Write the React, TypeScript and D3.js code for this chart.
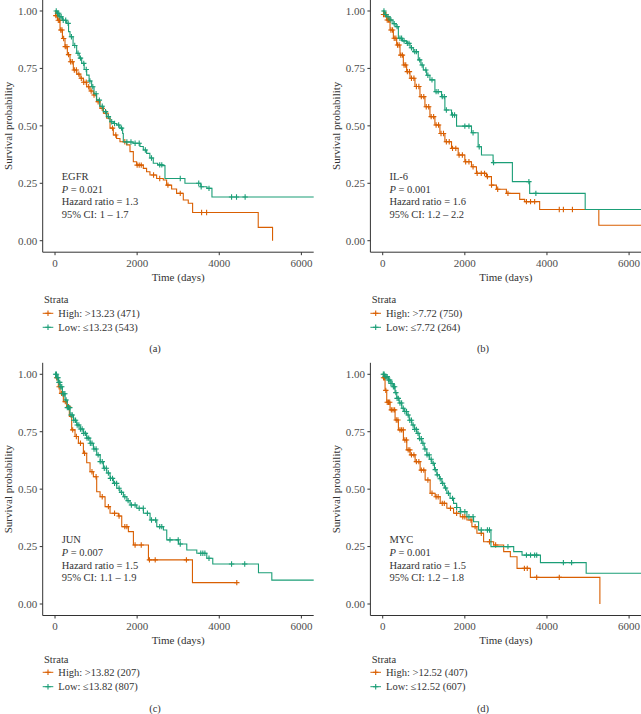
import React from "react";
import * as d3 from "d3";

type Pt = [number, number];

const TIME_TICKS = [0, 2000, 4000, 6000];
const SURV_TICKS = [0, 0.25, 0.5, 0.75, 1];
const PANEL_LABELS = ["(a)", "(b)", "(c)", "(d)"];
const GENES = ["EGFR", "IL-6", "JUN", "MYC"];
const P_VALUES = ["0.021", "0.001", "0.007", "0.001"];
const HAZARD = ["1.3", "1.6", "1.5", "1.5"];
const CI = ["1 – 1.7", "1.2 – 2.2", "1.1 – 1.9", "1.2 – 1.8"];
const HIGH_LABELS = ["High: >13.23 (471)", "High: >7.72 (750)", "High: >13.82 (207)", "High: >12.52 (407)"];
const LOW_LABELS = ["Low: ≤13.23 (543)", "Low: ≤7.72 (264)", "Low: ≤13.82 (807)", "Low: ≤12.52 (607)"];

// EGFR
const egfrHigh: Pt[] = [[0,1],[15,0.98],[60,0.96],[122,0.917],[180,0.88],[243,0.845],[300,0.81],[365,0.779],[446,0.743],[530,0.725],[609,0.707],[690,0.69],[771,0.67],[850,0.652],[933,0.634],[1010,0.605],[1095,0.576],[1180,0.555],[1258,0.533],[1340,0.49],[1420,0.46],[1500,0.445],[1582,0.431],[1744,0.417],[1826,0.388],[1907,0.344],[1988,0.329],[2150,0.315],[2230,0.3],[2312,0.286],[2475,0.271],[2637,0.264],[2718,0.242],[2840,0.225],[2961,0.206],[3124,0.177],[3245,0.163],[3351,0.123],[4949,0.058],[5298,0]];
const egfrHighCens = [20,50,80,110,140,170,210,250,290,330,380,420,470,520,580,640,700,760,820,880,950,1050,1150,1250,1400,1480,1700,2000,2050,2100,2400,2550,2750,3050,3570,3692];
const egfrLow: Pt[] = [[0,1],[40,0.99],[100,0.975],[180,0.96],[284,0.946],[330,0.91],[365,0.888],[440,0.85],[527,0.816],[590,0.795],[649,0.772],[710,0.745],[771,0.721],[830,0.695],[892,0.67],[950,0.64],[1014,0.612],[1090,0.585],[1176,0.562],[1260,0.54],[1339,0.518],[1420,0.51],[1501,0.504],[1580,0.49],[1647,0.467],[1663,0.43],[1900,0.424],[2069,0.41],[2150,0.395],[2231,0.38],[2310,0.36],[2393,0.337],[2500,0.33],[2620,0.327],[2678,0.271],[3164,0.25],[3550,0.235],[3700,0.228],[3822,0.19]];
const egfrLowCens = [30,60,90,120,150,200,260,320,400,480,560,620,700,760,850,920,1000,1080,1150,1230,1300,1380,1450,1550,1620,1750,1850,1950,2050,2200,2350,2550,2600,3050,3500,3560,3750,4300,4420,4630];

// IL-6
const il6High: Pt[] = [[0,1],[20,0.985],[97,0.961],[178,0.917],[259,0.881],[340,0.852],[421,0.808],[502,0.765],[583,0.736],[664,0.707],[785,0.671],[907,0.627],[1028,0.583],[1150,0.54],[1271,0.504],[1393,0.467],[1514,0.431],[1676,0.402],[1838,0.373],[2000,0.344],[2162,0.322],[2283,0.293],[2526,0.279],[2648,0.242],[2769,0.224],[3012,0.206],[3336,0.18],[3457,0.17],[3822,0.136],[5263,0.067]];
const il6HighCens = [20,50,80,110,140,170,200,240,280,320,360,400,440,480,520,560,600,650,700,760,820,880,940,1000,1060,1120,1180,1240,1300,1360,1420,1480,1550,1620,1700,1780,1860,1940,2020,2100,2200,2300,2400,2480,2550,2650,2800,3050,3500,3600,3700,4300,4400,4620];
const il6Low: Pt[] = [[0,1],[50,0.985],[100,0.975],[178,0.961],[250,0.945],[324,0.932],[381,0.881],[480,0.87],[583,0.859],[665,0.84],[745,0.823],[866,0.787],[930,0.765],[988,0.743],[1070,0.72],[1150,0.7],[1271,0.649],[1433,0.627],[1514,0.569],[1676,0.547],[1798,0.499],[2162,0.47],[2324,0.409],[2405,0.373],[2688,0.34],[3158,0.257],[3579,0.206],[4931,0.136]];
const il6LowCens = [30,70,130,200,280,350,420,460,520,600,640,700,780,820,900,960,1050,1100,1200,1300,1350,1450,1500,1550,1700,1750,2000,2100,2200,2350,2700,3560,3730];

// JUN
const junHigh: Pt[] = [[0,1],[20,0.985],[81,0.946],[122,0.917],[203,0.881],[284,0.859],[349,0.816],[406,0.758],[487,0.729],[569,0.7],[691,0.656],[772,0.615],[853,0.576],[934,0.554],[1015,0.489],[1097,0.467],[1219,0.424],[1340,0.395],[1543,0.383],[1625,0.337],[1787,0.315],[1909,0.257],[2275,0.192],[3347,0.093]];
const junHighEnd = 4427;
const junHighCens = [40,100,160,250,330,430,520,620,720,900,1000,1150,1300,1450,1560,1700,1750,1950,2100,2300,2440,3200,4427];
const junLow: Pt[] = [[0,1],[40,0.985],[80,0.965],[122,0.946],[180,0.915],[244,0.888],[300,0.855],[366,0.823],[450,0.8],[528,0.779],[610,0.762],[691,0.743],[770,0.722],[853,0.7],[935,0.675],[1015,0.649],[1100,0.62],[1178,0.591],[1260,0.57],[1340,0.547],[1420,0.525],[1503,0.504],[1580,0.486],[1665,0.467],[1750,0.45],[1828,0.431],[1990,0.417],[2153,0.395],[2315,0.366],[2478,0.337],[2640,0.322],[2721,0.279],[3006,0.261],[3209,0.235],[3453,0.221],[3696,0.199],[3842,0.174],[4955,0.136],[5280,0.104]];
const junLowCens = [15,35,55,75,95,115,140,165,190,215,240,270,300,330,360,390,420,460,500,540,580,620,660,700,740,780,820,860,900,950,1000,1050,1100,1150,1200,1250,1300,1350,1400,1450,1500,1560,1620,1700,1780,1860,1950,2050,2150,2250,2350,2450,2550,2600,2800,3000,3050,3550,3600,3650,3750,4300,4620];

// MYC
const mycHigh: Pt[] = [[0,1],[15,0.985],[57,0.93],[98,0.878],[179,0.845],[301,0.801],[382,0.758],[504,0.714],[586,0.671],[667,0.649],[789,0.62],[911,0.583],[1033,0.54],[1155,0.482],[1277,0.467],[1400,0.438],[1562,0.417],[1725,0.395],[1888,0.38],[2050,0.366],[2172,0.337],[2294,0.308],[2457,0.271],[2701,0.257],[2946,0.228],[3108,0.206],[3271,0.155],[3596,0.116],[5289,0]];
const mycHighCens = [20,45,75,110,140,170,210,250,290,330,370,420,460,500,540,580,620,660,700,760,820,880,940,1000,1100,1200,1300,1350,1450,1500,1650,1800,1950,2000,2150,2250,2400,2600,2750,3450,3520,3750,4300];
const mycLow: Pt[] = [[0,1],[50,0.99],[138,0.975],[200,0.96],[260,0.946],[300,0.92],[342,0.895],[400,0.875],[464,0.852],[525,0.838],[586,0.823],[645,0.8],[708,0.779],[770,0.76],[830,0.743],[890,0.72],[952,0.7],[1010,0.675],[1074,0.649],[1135,0.63],[1196,0.612],[1260,0.585],[1318,0.562],[1380,0.545],[1440,0.525],[1500,0.505],[1562,0.482],[1640,0.46],[1725,0.438],[1800,0.42],[1888,0.402],[2050,0.38],[2213,0.358],[2335,0.322],[2636,0.25],[3190,0.228],[3393,0.213],[3841,0.18],[4955,0.134]];
const mycLowCens = [15,35,60,85,110,140,170,200,230,260,290,320,350,380,420,460,500,540,580,620,660,700,740,780,820,860,900,940,980,1030,1080,1130,1180,1230,1280,1330,1400,1460,1530,1600,1700,1800,1900,2000,2100,2200,2400,2550,2600,3050,3500,3600,3700,3750,4400,4600];

const HIGH_COLOR = "#D95F02";
const LOW_COLOR = "#1B9E77";
const FONT = "'Liberation Serif', 'DejaVu Serif', serif";
const TEXT = "#333333";

const highSeries = [egfrHigh, il6High, junHigh, mycHigh];
const highCens = [egfrHighCens, il6HighCens, junHighCens, mycHighCens];
const highEnds = [5298, 6300, junHighEnd, 5289];
const lowSeries = [egfrLow, il6Low, junLow, mycLow];
const lowCens = [egfrLowCens, il6LowCens, junLowCens, mycLowCens];
const lowEnds = [6300, 6300, 6300, 6300];

const COL_LEFT = [42.7, 370.4];
const ROW_TOP = [-0.5, 362.8];
const PLOT_W = 271;
const PLOT_H = 252.7;
const LEGEND_Y = [[299.5, 313.3, 327.3, 348.5], [659, 672.3, 686.7, 708.3]];
const LABEL_X = [155, 483];

function survAt(pts: Pt[], t: number): number {
  let s = pts[0][1];
  for (const p of pts) {
    if (p[0] <= t) s = p[1];
    else break;
  }
  return s;
}

function Cross({ x, y, color }: { x: number; y: number; color: string }) {
  const r = 2.7;
  return (
    <path d={`M${x - r},${y}H${x + r}M${x},${y - r}V${y + r}`} stroke={color} strokeWidth={1.1} fill="none" />
  );
}

function Panel({ idx }: { idx: number }) {
  const col = idx % 2;
  const row = Math.floor(idx / 2);
  const L = COL_LEFT[col];
  const T = ROW_TOP[row];
  const x = d3.scaleLinear().domain([-300, 6300]).range([L, L + PLOT_W]);
  const y = d3.scaleLinear().domain([-0.05, 1.05]).range([T + PLOT_H, T]);
  const line = d3
    .line<Pt>()
    .x((d) => x(d[0]))
    .y((d) => y(d[1]))
    .curve(d3.curveStepAfter);

  const curves = [
    { pts: highSeries[idx], cens: highCens[idx], end: highEnds[idx], color: HIGH_COLOR },
    { pts: lowSeries[idx], cens: lowCens[idx], end: lowEnds[idx], color: LOW_COLOR },
  ];

  const legY = LEGEND_Y[row];
  const annX = x(0) + 6.7;
  const annY = y(0.28);

  return (
    <g>
      <line x1={L} x2={L} y1={T} y2={T + PLOT_H} stroke="#333" strokeWidth={1} />
      <line x1={L} x2={L + PLOT_W} y1={T + PLOT_H} y2={T + PLOT_H} stroke="#333" strokeWidth={1} />
      {SURV_TICKS.map((v) => (
        <g key={v}>
          <line x1={L - 3} x2={L} y1={y(v)} y2={y(v)} stroke="#333" />
          <text x={L - 5.5} y={y(v)} dy="0.35em" textAnchor="end" fontSize={11} fill="#4d4d4d" fontFamily={FONT}>
            {d3.format(".2f")(v)}
          </text>
        </g>
      ))}
      {TIME_TICKS.map((v) => (
        <g key={v}>
          <line x1={x(v)} x2={x(v)} y1={T + PLOT_H} y2={T + PLOT_H + 3} stroke="#333" />
          <text x={x(v)} y={T + PLOT_H + 10.5} dy="0.35em" textAnchor="middle" fontSize={11} fill="#4d4d4d" fontFamily={FONT}>
            {v}
          </text>
        </g>
      ))}
      <text x={L + PLOT_W / 2} y={T + PLOT_H + 25} dy="0.35em" textAnchor="middle" fontSize={11} fill={TEXT} fontFamily={FONT}>
        Time (days)
      </text>
      <text
        transform={`translate(${L - 34.5},${y(0.5)}) rotate(-90)`}
        dy="0.35em"
        textAnchor="middle"
        fontSize={11}
        fill={TEXT}
        fontFamily={FONT}
      >
        Survival probability
      </text>

      {curves.map((c, i) => {
        const last = c.pts[c.pts.length - 1];
        const full: Pt[] = [...c.pts, [c.end, last[1]]];
        return (
          <g key={i}>
            <path d={line(full) || ""} fill="none" stroke={c.color} strokeWidth={1.1} />
            {c.cens.map((t, k) => (
              <Cross key={k} x={x(t)} y={y(survAt(c.pts, t))} color={c.color} />
            ))}
          </g>
        );
      })}

      <g fontFamily={FONT} fontSize={10.5} fill={TEXT}>
        <text x={annX} y={annY} dy="0.35em">{GENES[idx]}</text>
        <text x={annX} y={annY + 12.6} dy="0.35em">
          <tspan fontStyle="italic">P</tspan> = {P_VALUES[idx]}
        </text>
        <text x={annX} y={annY + 25.2} dy="0.35em">Hazard ratio = {HAZARD[idx]}</text>
        <text x={annX} y={annY + 37.8} dy="0.35em">95% CI: {CI[idx]}</text>
      </g>

      <g fontFamily={FONT} fontSize={10.5} fill={TEXT}>
        <text x={L + 1.3} y={legY[0]} dy="0.35em">Strata</text>
        {[HIGH_LABELS[idx], LOW_LABELS[idx]].map((lab, i) => {
          const ly = legY[i + 1];
          const color = i === 0 ? HIGH_COLOR : LOW_COLOR;
          return (
            <g key={i}>
              <line x1={L} x2={L + 10.6} y1={ly} y2={ly} stroke={color} strokeWidth={1} />
              <Cross x={L + 5.3} y={ly} color={color} />
              <text x={L + 15.6} y={ly} dy="0.35em">{lab}</text>
            </g>
          );
        })}
        <text x={LABEL_X[col]} y={legY[3]} dy="0.35em" textAnchor="middle">{PANEL_LABELS[idx]}</text>
      </g>
    </g>
  );
}

export default function App() {
  return (
    <svg
      width={641}
      height={714}
      style={{ position: "absolute", left: 0, top: 0, background: "#fff" }}
    >
      <rect width={641} height={714} fill="#fff" />
      {[0, 1, 2, 3].map((i) => (
        <Panel key={i} idx={i} />
      ))}
    </svg>
  );
}
